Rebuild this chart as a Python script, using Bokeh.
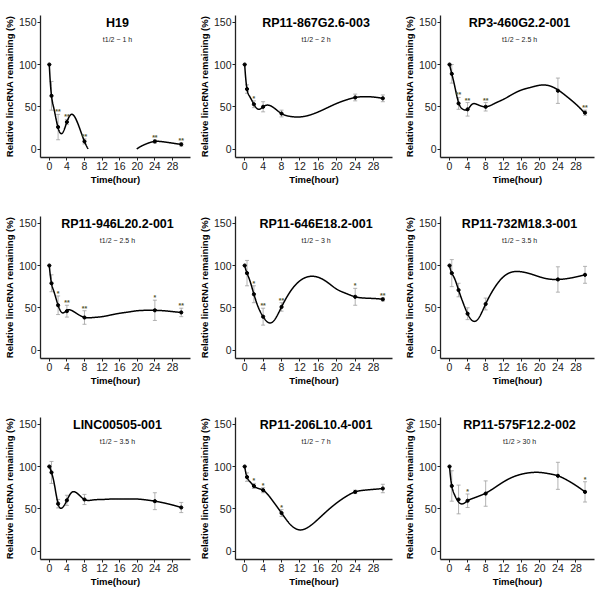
import numpy as np
from bokeh.plotting import figure
from bokeh.layouts import column, row
from bokeh.models import ColumnDataSource, Whisker, TeeHead, FixedTicker, Range1d
from bokeh.core.properties import value
from bokeh.embed import file_html
from bokeh.resources import INLINE

# ---------------- data ----------------
time_h = [0, 0.5, 2, 4, 8, 24, 30]
x_ticks = [0, 4, 8, 12, 16, 20, 24, 28]
y_ticks = [0, 50, 100, 150]

names = ["H19", "RP11-867G2.6-003", "RP3-460G2.2-001",
         "RP11-946L20.2-001", "RP11-646E18.2-001", "RP11-732M18.3-001",
         "LINC00505-001", "RP11-206L10.4-001", "RP11-575F12.2-002"]
half_lives = ["t1/2 ~ 1 h", "t1/2 ~ 2 h", "t1/2 ~ 2.5 h",
              "t1/2 ~ 2.5 h", "t1/2 ~ 3 h", "t1/2 ~ 3.5 h",
              "t1/2 ~ 3.5 h", "t1/2 ~ 7 h", "t1/2 > 30 h"]

# measured means (% remaining), error (sd) and significance marks
h19_mean = [100, 63, 26, 32, 9, 9, 5.5]
h19_err = [0, 17, 15, 3, 3, 2, 2]
h19_sig = ["", "", "**", "**", "**", "**", "**"]

rp11_867_mean = [100, 71, 53, 50, 42, 61, 60]
rp11_867_err = [0, 5, 4, 6, 4, 4, 4]
rp11_867_sig = ["", "", "*", "", "", "", ""]

rp3_460_mean = [100, 89, 54, 47, 50, 69, 43]
rp3_460_err = [0, 11, 7, 8, 5, 15, 3]
rp3_460_sig = ["", "", "**", "**", "**", "", "**"]

rp11_946_mean = [100, 79, 53, 46, 38.5, 47, 44.5]
rp11_946_err = [0, 10, 11, 7, 8, 12, 5]
rp11_946_sig = ["", "", "*", "**", "**", "*", "**"]

rp11_646_mean = [100, 91, 66, 39.5, 51, 63, 60]
rp11_646_err = [0, 15, 10, 10, 5, 10, 2]
rp11_646_sig = ["", "", "*", "**", "**", "*", "**"]

rp11_732_mean = [100, 91, 71, 43, 54.5, 83.5, 89]
rp11_732_err = [0, 16, 8, 7, 7, 15, 10]
rp11_732_sig = ["", "", "", "", "", "", ""]

linc00505_mean = [100, 93, 56, 60, 61, 59, 51.5]
linc00505_err = [0, 13, 5, 6, 6, 10, 6]
linc00505_sig = ["", "", "", "", "", "", ""]

rp11_206_mean = [100, 87.5, 77, 72, 45, 70, 74]
rp11_206_err = [0, 5, 3, 3, 4, 2, 5]
rp11_206_sig = ["", "", "*", "*", "*", "", ""]

rp11_575_mean = [100, 77, 61, 59.5, 68, 89, 70]
rp11_575_err = [0, 18, 17, 8, 15, 16, 12]
rp11_575_sig = ["", "", "", "*", "", "", "*"]

# fitted smooth curve of each panel at these times
fit_x = [0, 0.5, 1, 2, 3, 4, 5, 6, 8, 10, 12, 14, 16, 18, 20, 22, 24, 26, 28, 30]
h19_fit = [100, 63, 49, 25, 19, 32, 41, 36, 9, -8, -14, -16, -14, -8, 0.5, 6, 9, 8.5, 7, 5.5]
rp11_867_fit = [100, 71, 63, 53, 47, 50, 52, 50, 42, 38.5, 38, 40, 44, 49, 54, 58, 61, 62, 61.5, 60]
rp3_460_fit = [100, 89, 78, 55, 47, 47, 53, 53, 50, 54, 59, 65, 70, 73, 75.5, 75, 70, 62, 53, 42]
rp11_946_fit = [100, 79, 70, 53, 44, 47, 47, 44, 38.7, 38.5, 39.5, 41.5, 43.5, 45, 46.5, 47, 47, 46.5, 45.5, 44.5]
rp11_646_fit = [100, 91, 84, 66, 50, 39.5, 33, 33, 51, 70, 82, 87, 86, 80, 72, 67, 63, 61.5, 61, 60]
rp11_732_fit = [100, 91, 86, 71, 56, 43, 35, 35, 54.5, 74, 87, 92.5, 92.5, 90, 86.5, 84, 83.5, 84.5, 86.5, 89]
linc00505_fit = [100, 93, 83, 56, 51.5, 60, 69, 69.5, 61, 60.5, 61, 61.5, 61.5, 61.5, 61.5, 60.5, 59, 57, 54.5, 51.5]
rp11_206_fit = [100, 87.5, 83, 77, 74, 72, 67, 60, 45, 31, 25, 29, 38, 48, 57, 64.5, 70, 72, 73, 74]
rp11_575_fit = [100, 77, 68, 58, 56, 59.5, 62, 64, 68.5, 75, 82, 87.5, 91, 92.8, 93, 91.5, 89, 84, 77.5, 70]

means = [h19_mean, rp11_867_mean, rp3_460_mean, rp11_946_mean, rp11_646_mean,
         rp11_732_mean, linc00505_mean, rp11_206_mean, rp11_575_mean]
errs = [h19_err, rp11_867_err, rp3_460_err, rp11_946_err, rp11_646_err,
        rp11_732_err, linc00505_err, rp11_206_err, rp11_575_err]
sigs = [h19_sig, rp11_867_sig, rp3_460_sig, rp11_946_sig, rp11_646_sig,
        rp11_732_sig, linc00505_sig, rp11_206_sig, rp11_575_sig]
fits = [h19_fit, rp11_867_fit, rp3_460_fit, rp11_946_fit, rp11_646_fit,
        rp11_732_fit, linc00505_fit, rp11_206_fit, rp11_575_fit]


# ------------- smooth drawing of the curve (interpolating cubic spline) -------------
def fmm_spline(x, y, xout):
    x = np.asarray(x, float); y = np.asarray(y, float)
    n = len(x); nm1 = n - 1
    b = np.zeros(n); c = np.zeros(n); d = np.zeros(n)
    d[0] = x[1] - x[0]
    c[1] = (y[1] - y[0]) / d[0]
    for i in range(1, nm1):
        d[i] = x[i + 1] - x[i]
        b[i] = 2.0 * (d[i - 1] + d[i])
        c[i + 1] = (y[i + 1] - y[i]) / d[i]
        c[i] = c[i + 1] - c[i]
    b[0] = -d[0]
    b[nm1] = -d[n - 2]
    c[0] = c[nm1] = 0.0
    if n > 3:
        c[0] = c[2] / (x[3] - x[1]) - c[1] / (x[2] - x[0])
        c[nm1] = c[n - 2] / (x[nm1] - x[n - 3]) - c[n - 3] / (x[n - 2] - x[n - 4])
        c[0] = c[0] * d[0] * d[0] / (x[3] - x[0])
        c[nm1] = -c[nm1] * d[n - 2] * d[n - 2] / (x[nm1] - x[n - 4])
    for i in range(1, n):
        t = d[i - 1] / b[i - 1]
        b[i] = b[i] - t * d[i - 1]
        c[i] = c[i] - t * c[i - 1]
    c[nm1] = c[nm1] / b[nm1]
    for i in range(n - 2, -1, -1):
        c[i] = (c[i] - d[i] * c[i + 1]) / b[i]
    b[nm1] = (y[n - 1] - y[n - 2]) / d[n - 2] + d[n - 2] * (c[n - 2] + 2.0 * c[nm1])
    for i in range(nm1):
        b[i] = (y[i + 1] - y[i]) / d[i] - d[i] * (c[i + 1] + 2.0 * c[i])
        d[i] = (c[i + 1] - c[i]) / d[i]
        c[i] = 3.0 * c[i]
    c[nm1] = 3.0 * c[nm1]
    d[nm1] = d[n - 2]
    idx = np.clip(np.searchsorted(x, xout, side="right") - 1, 0, nm1 - 1)
    dx = xout - x[idx]
    return y[idx] + dx * (b[idx] + dx * (c[idx] + dx * d[idx]))


FONT = "'Liberation Sans', Arial, sans-serif"

col_w = [195, 205, 199]
col_rb = [5, 8, 5]
row_h = [187, 201, 201]
row_tb = [15, 29, 29]


def make_panel(k):
    r, cidx = divmod(k, 3)
    t = np.array(time_h, float)
    m = np.array(means[k], float)
    e = np.array(errs[k], float)
    p = figure(width=col_w[cidx], height=row_h[r], output_backend="svg",
               toolbar_location=None, x_range=Range1d(-2, 32.1),
               y_range=Range1d(-10, 158),
               min_border_left=2, min_border_right=col_rb[cidx],
               min_border_top=row_tb[r], min_border_bottom=2)
    p.outline_line_color = None
    p.xgrid.visible = False
    p.ygrid.visible = False

    xs = np.linspace(0, 30, 600)
    ys = fmm_spline(fit_x, fits[k], xs)
    ys = np.where((ys < 0) | (ys > 158), np.nan, ys)
    p.line(xs, ys, line_color="black", line_width=1.5)

    src = ColumnDataSource(dict(x=t, y=m, lo=m - e, hi=m + e, sig=sigs[k]))
    w = Whisker(source=src, base="x", upper="hi", lower="lo",
                line_color="#a0a0a0", line_width=0.8,
                upper_head=TeeHead(size=4, line_color="#a0a0a0", line_width=0.8),
                lower_head=TeeHead(size=4, line_color="#a0a0a0", line_width=0.8))
    p.add_layout(w)
    p.scatter("x", "y", source=src, size=3.2, color="black")
    p.text("x", "hi", text="sig", source=src, text_align="center",
           text_baseline="bottom", text_font=value(FONT),
           text_font_size="7px", text_font_style="bold",
           text_color="#55552e", y_offset=1)

    p.text([15.5], [148.6], text=[names[k]], text_align="center",
           text_baseline="middle", text_font=value(FONT),
           text_font_size="12.5px", text_font_style="bold", text_color="black")
    p.text([15.5], [130], text=[half_lives[k]], text_align="center",
           text_baseline="middle", text_font=value(FONT),
           text_font_size="7px", text_color="#222222")

    for ax in (p.xaxis[0], p.yaxis[0]):
        ax.axis_line_color = "#222222"
        ax.axis_line_width = 1.3
        ax.major_tick_line_color = "#222222"
        ax.major_tick_in = 0
        ax.major_tick_out = 3
        ax.minor_tick_line_color = None
        ax.major_label_text_font = FONT
        ax.major_label_text_font_size = "10.5px"
        ax.major_label_text_color = "#222222"
        ax.major_label_standoff = 1
        ax.axis_label_standoff = 1
    p.xaxis.ticker = FixedTicker(ticks=x_ticks)
    p.yaxis.ticker = FixedTicker(ticks=y_ticks)
    p.xaxis.axis_label = "Time(hour)"
    p.xaxis.axis_label_text_font = FONT
    p.xaxis.axis_label_text_font_size = "9.5px"
    p.xaxis.axis_label_text_font_style = "bold"
    p.xaxis.axis_label_text_color = "black"
    p.yaxis.axis_label = "Relative lincRNA remaining (%)"
    p.yaxis.axis_label_text_font = FONT
    p.yaxis.axis_label_text_font_size = "9.5px"
    p.yaxis.axis_label_text_font_style = "bold"
    p.yaxis.axis_label_text_color = "black"
    return p


panels = [make_panel(k) for k in range(9)]
layout = column(row(*panels[0:3]), row(*panels[3:6]), row(*panels[6:9]))

open("out.html", "w").write(file_html(layout, INLINE))
